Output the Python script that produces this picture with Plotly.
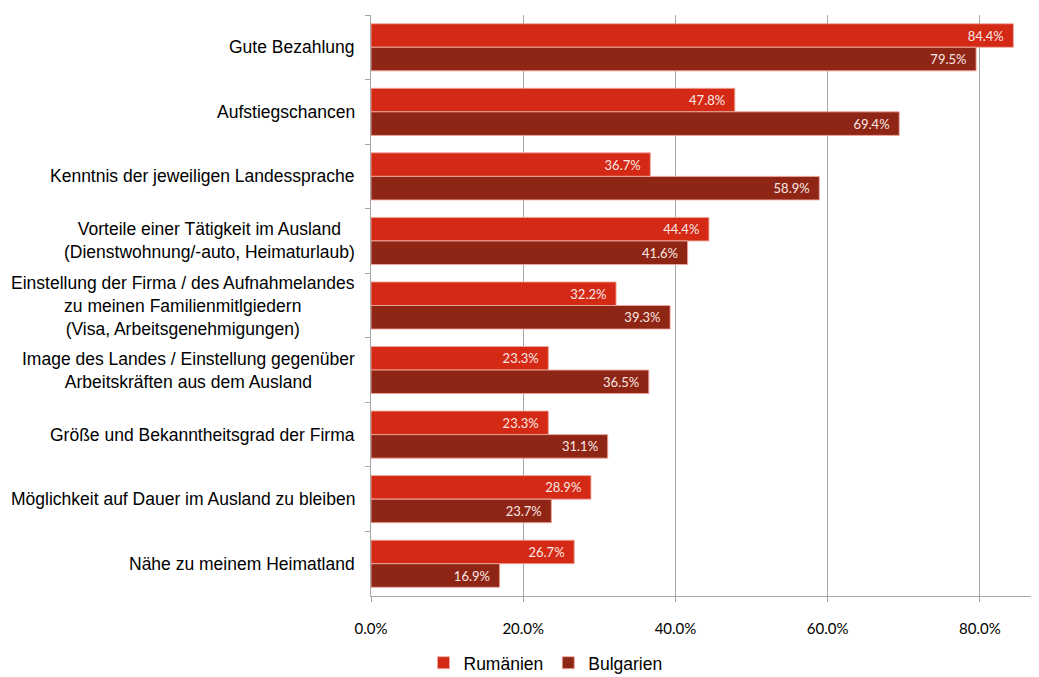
import plotly.graph_objects as go

categories = [
    "Gute Bezahlung",
    "Aufstiegschancen",
    "Kenntnis der jeweiligen Landessprache",
    "Vorteile einer Tätigkeit im Ausland<br>(Dienstwohnung/-auto, Heimaturlaub)",
    "Einstellung der Firma / des Aufnahmelandes<br>zu meinen Familienmitlgiedern<br>(Visa, Arbeitsgenehmigungen)",
    "Image des Landes / Einstellung gegenüber<br>Arbeitskräften aus dem Ausland",
    "Größe und Bekanntheitsgrad der Firma",
    "Möglichkeit auf Dauer im Ausland zu bleiben",
    "Nähe zu meinem Heimatland",
]
rumaenien = [0.844, 0.478, 0.367, 0.444, 0.322, 0.233, 0.233, 0.289, 0.267]
bulgarien = [0.795, 0.694, 0.589, 0.416, 0.393, 0.365, 0.311, 0.237, 0.169]
x_ticks = [0, 0.2, 0.4, 0.6, 0.8]
x_ticklabels = ["0.0%", "20.0%", "40.0%", "60.0%", "80.0%"]

fig = go.Figure()
for name, vals, color in [("Rumänien", rumaenien, "#D42915"), ("Bulgarien", bulgarien, "#8F2514")]:
    fig.add_trace(go.Bar(
        y=categories, x=vals, name=name, orientation="h",
        marker=dict(color=color, line=dict(color="rgba(240,170,160,0.9)", width=1)),
        texttemplate="%{x:.1%}\u00a0\u00a0", textposition="inside", insidetextanchor="end",
        textangle=0,
        textfont=dict(family="Lato, Open Sans, sans-serif", size=13, color="#F9E8E4"),
        cliponaxis=False,
    ))

for c in categories:
    fig.add_annotation(
        x=0, xref="paper", y=c, yref="y", text=c, showarrow=False,
        xanchor="right", yanchor="middle", align="center", xshift=-14,
        font=dict(family="Liberation Sans, Arial, sans-serif", size=17.5, color="#000000"),
    )

fig.update_layout(
    width=1031, height=669,
    margin=dict(l=363, r=2, t=7, b=81, autoexpand=False),
    paper_bgcolor="white", plot_bgcolor="white",
    barmode="group", bargap=0.27, bargroupgap=0,
    showlegend=True,
    legend=dict(orientation="h", x=0.262, xanchor="center",
                y=-0.115, yanchor="middle",
                font=dict(family="Liberation Sans, Arial, sans-serif", size=17.5, color="#000"),
                traceorder="normal"),
    xaxis=dict(range=[0, 0.875], tickvals=x_ticks, ticktext=x_ticklabels,
               showgrid=True, gridcolor="#A6A6A6", gridwidth=1,
               showline=True, linecolor="#A6A6A6", linewidth=1,
               ticks="outside", ticklen=5, tickcolor="#A6A6A6",
               ticklabelstandoff=14, zeroline=False, tickangle=0,
               tickfont=dict(family="Lato, Open Sans, sans-serif", size=15, color="#000")),
    yaxis=dict(autorange="reversed", showticklabels=False,
               showline=True, linecolor="#A6A6A6", linewidth=1,
               ticks="outside", ticklen=5, tickcolor="#A6A6A6",
               tickson="boundaries", showgrid=False),
    font=dict(family="Liberation Sans, Arial, sans-serif"),
)

fig.write_html("out.html")
